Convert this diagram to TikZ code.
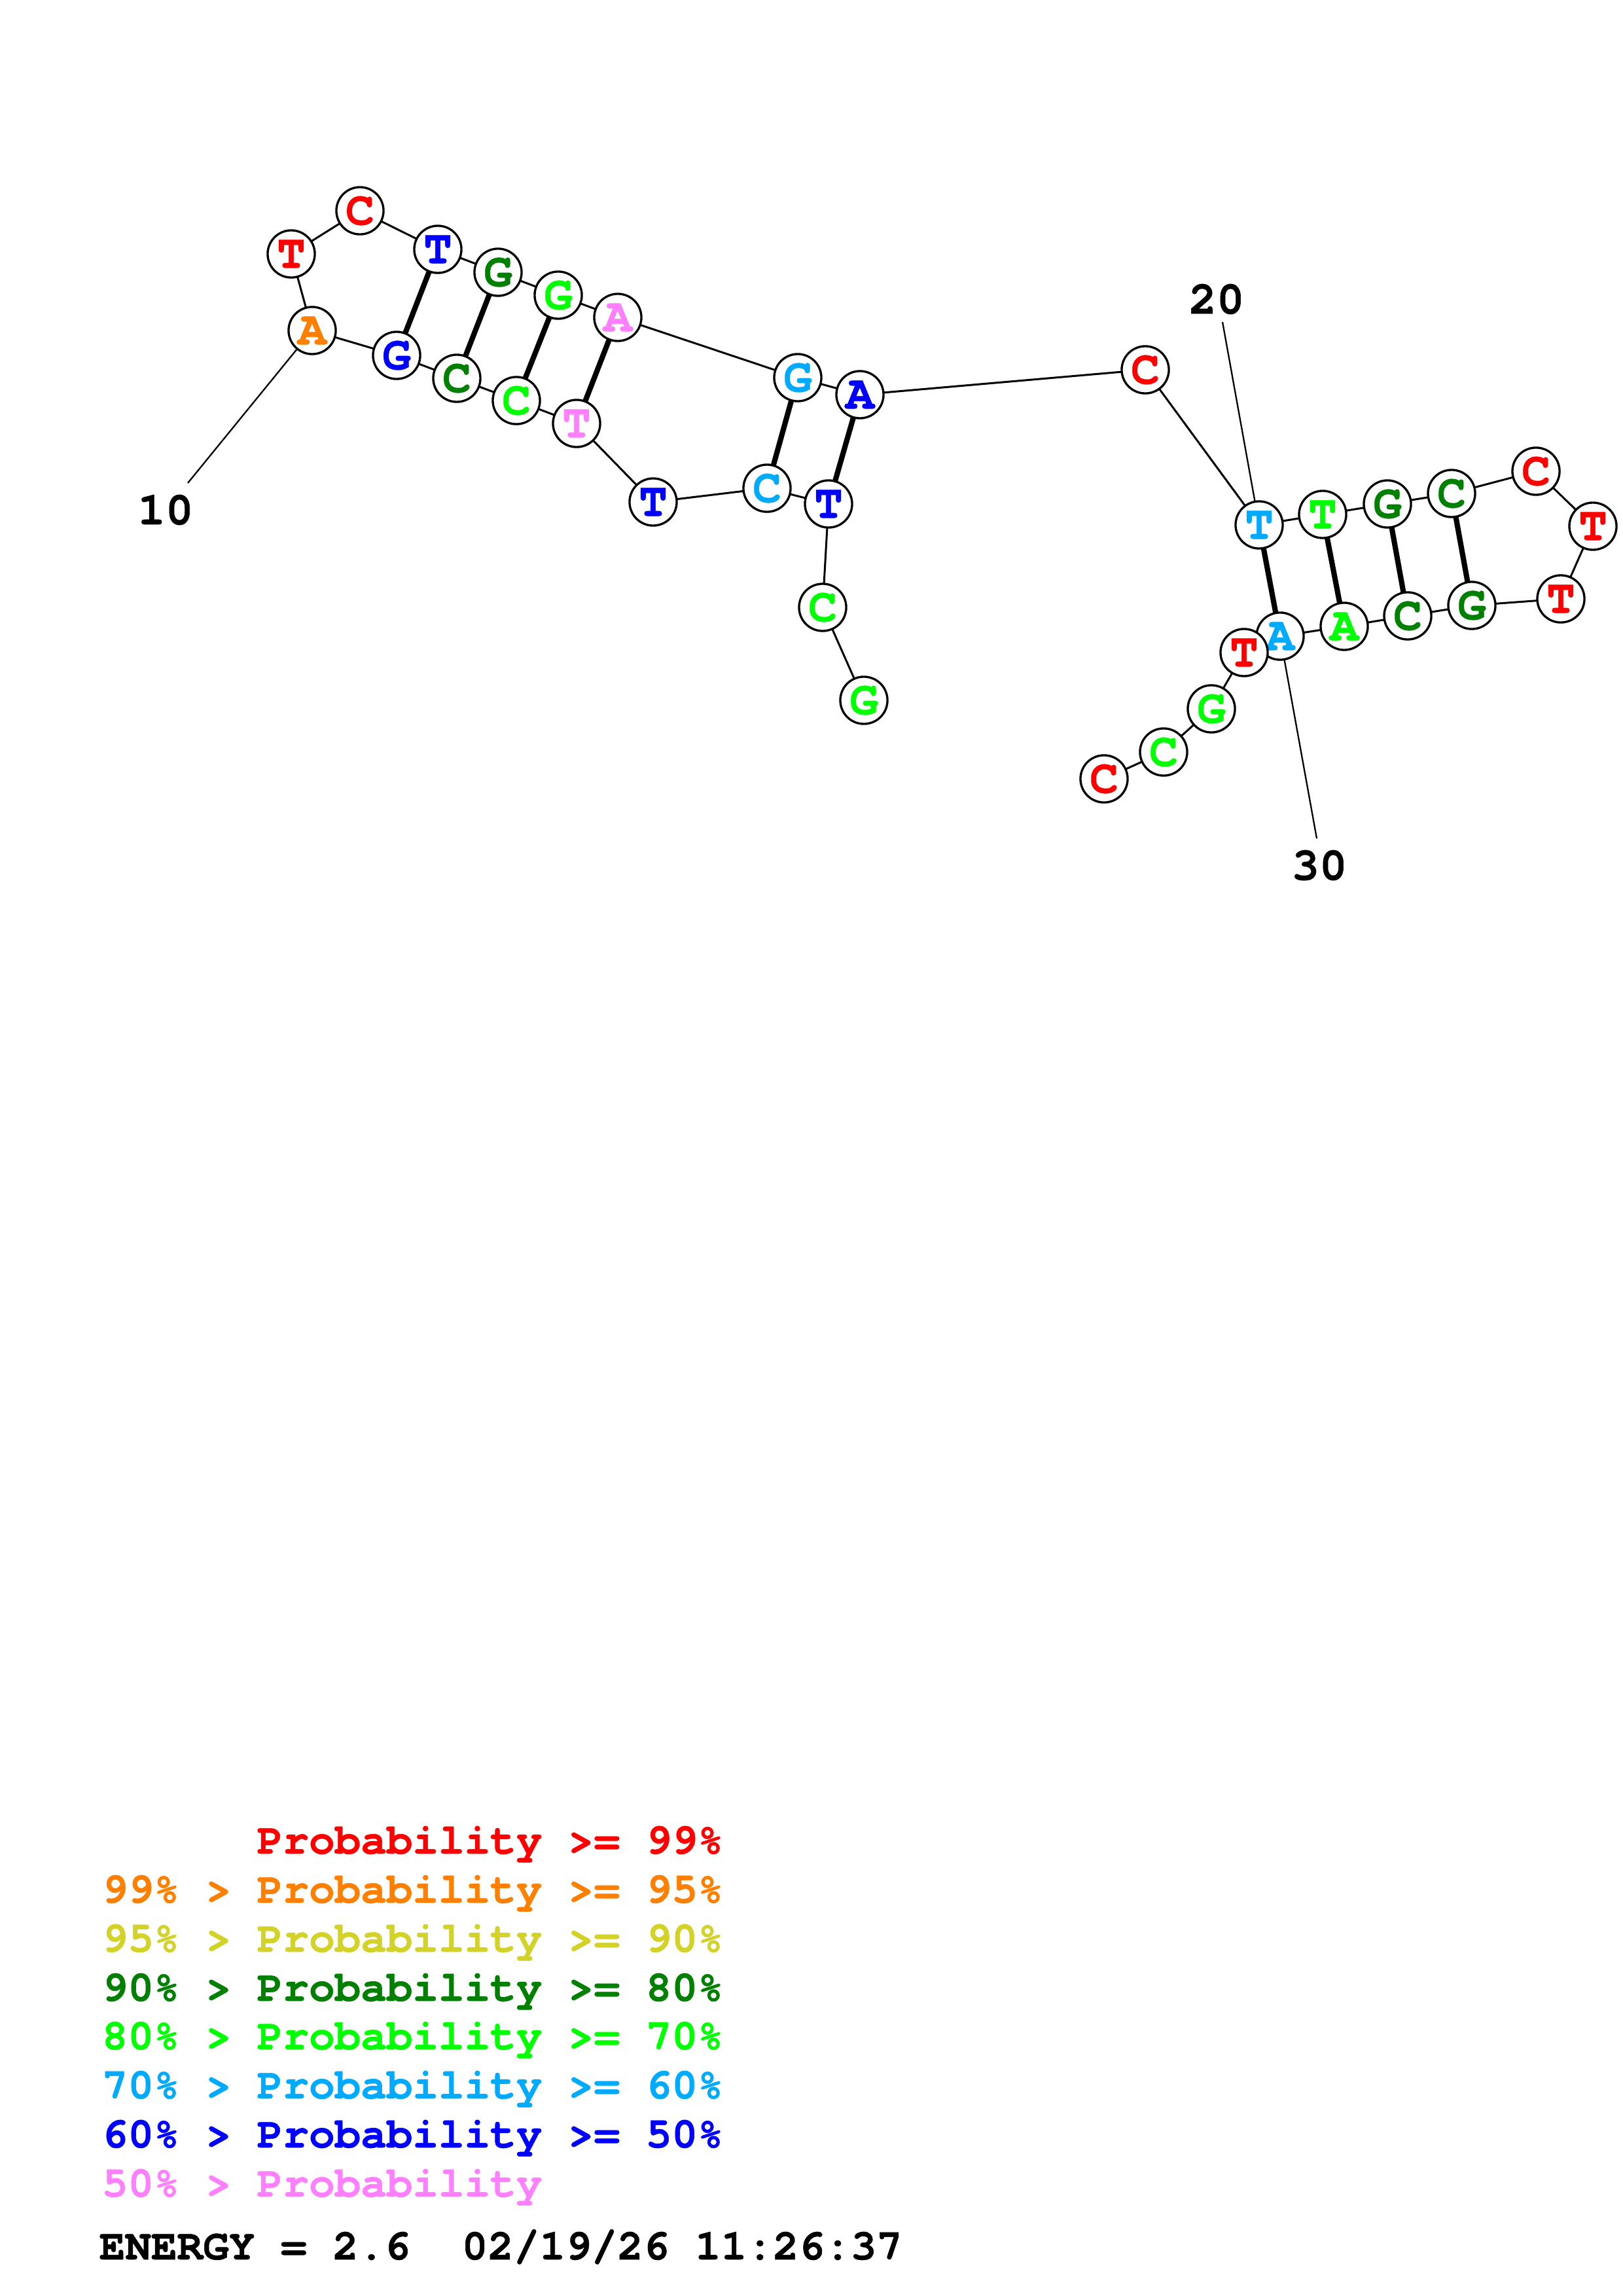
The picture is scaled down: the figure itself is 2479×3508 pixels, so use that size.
\documentclass[tikz,border=0pt]{standalone}
\usepackage{fontspec}
\setmonofont{texgyrecursor}[Extension=.otf,UprightFont=*-regular,BoldFont=*-bold,BoldFeatures={FakeBold=0.8}]
\usetikzlibrary{backgrounds}
\definecolor{cRed}{RGB}{255,0,0}
\definecolor{cOrange}{RGB}{255,128,0}
\definecolor{cYellow}{RGB}{210,210,40}
\definecolor{cDkGreen}{RGB}{0,128,0}
\definecolor{cGreen}{RGB}{0,255,0}
\definecolor{cCyan}{RGB}{0,170,255}
\definecolor{cBlue}{RGB}{0,0,255}
\definecolor{cPink}{RGB}{255,128,255}
\tikzset{
  nt/.style={circle,draw=black,line width=0.8pt,fill=white,minimum size=17.3pt,inner sep=0pt,
    text=#1,font=\ttfamily\bfseries\fontsize{17.5}{17.5}\selectfont},
  bb/.style={line width=0.72pt},
  pairbond/.style={line width=1.95pt},
  tick/.style={line width=0.55pt},
  lab/.style={inner sep=0pt,font=\ttfamily\bfseries\fontsize{17}{17}\selectfont},
  leg/.style={anchor=base west,inner sep=0pt,font=\ttfamily\bfseries\fontsize{15.84}{16}\selectfont}
}
\begin{document}
\begin{tikzpicture}[x=0.24pt,y=-0.24pt]
\useasboundingbox (0,0) rectangle (2479,3508);
\node[nt=cGreen]   (n1)  at (1320,1070) {G};
\node[nt=cGreen]   (n2)  at (1257,928)  {C};
\node[nt=cBlue]    (n3)  at (1266,770)  {T};
\node[nt=cCyan]    (n4)  at (1172,746)  {C};
\node[nt=cBlue]    (n5)  at (998,767)   {T};
\node[nt=cPink]    (n6)  at (881,647)   {T};
\node[nt=cGreen]   (n7)  at (789,612)   {C};
\node[nt=cDkGreen] (n8)  at (698,578)   {C};
\node[nt=cBlue]    (n9)  at (606,543)   {G};
\node[nt=cOrange]  (n10) at (477,505)   {A};
\node[nt=cRed]     (n11) at (445,388)   {T};
\node[nt=cRed]     (n12) at (550,322)   {C};
\node[nt=cBlue]    (n13) at (669,381)   {T};
\node[nt=cDkGreen] (n14) at (761,416)   {G};
\node[nt=cGreen]   (n15) at (853,451)   {G};
\node[nt=cPink]    (n16) at (944,485)   {A};
\node[nt=cCyan]    (n17) at (1219,577)  {G};
\node[nt=cBlue]    (n18) at (1314,603)  {A};
\node[nt=cRed]     (n19) at (1750,565)  {C};
\node[nt=cCyan]    (n20) at (1924,802)  {T};
\node[nt=cGreen]   (n21) at (2021,786)  {T};
\node[nt=cDkGreen] (n22) at (2120,770)  {G};
\node[nt=cDkGreen] (n23) at (2218,754)  {C};
\node[nt=cRed]     (n24) at (2347,720)  {C};
\node[nt=cRed]     (n25) at (2434,804)  {T};
\node[nt=cRed]     (n26) at (2385,915)  {T};
\node[nt=cDkGreen] (n27) at (2249,925)  {G};
\node[nt=cDkGreen] (n28) at (2151,941)  {C};
\node[nt=cGreen]   (n29) at (2054,957)  {A};
\node[nt=cCyan]    (n30) at (1956,972)  {A};
\node[nt=cRed]     (n31) at (1901,997)  {T};
\node[nt=cGreen]   (n32) at (1851,1083) {G};
\node[nt=cGreen]   (n33) at (1778,1149) {C};
\node[nt=cRed]     (n34) at (1687,1190) {C};
% position labels
\node[lab] (l10) at (253,779) {10};
\node[lab] (l20) at (1859,457) {20};
\node[lab] (l30) at (2016,1322) {30};
\coordinate (t10) at (287,738);
\coordinate (t20) at (1868,492);
\coordinate (t30) at (2012,1281);
\begin{scope}[on background layer]
\foreach \a/\b in {1/2,2/3,3/4,4/5,5/6,6/7,7/8,8/9,9/10,10/11,11/12,12/13,13/14,14/15,15/16,16/17,17/18,18/19,19/20,20/21,21/22,22/23,23/24,24/25,25/26,26/27,27/28,28/29,29/30,30/31,31/32,32/33,33/34}
  \draw[bb] (n\a.center) -- (n\b.center);
\foreach \a/\b in {3/18,4/17,6/16,7/15,8/14,9/13,20/30,21/29,22/28,23/27}
  \draw[pairbond] (n\a.center) -- (n\b.center);
\draw[tick] (t10) -- (n10.center);
\draw[tick] (t20) -- (n20.center);
\draw[tick] (n30.center) -- (t30);
\end{scope}
% legend
\node[leg,text=cRed] (g1) at (392,2832) {Probability >= 99\%};
\node[leg,text=cOrange] (h2) at (155,2907) {99\% >};
\node[leg,text=cOrange] (g2) at (392,2907) {Probability >= 95\%};
\node[leg,text=cYellow] (h3) at (155,2982) {95\% >};
\node[leg,text=cYellow] (g3) at (392,2982) {Probability >= 90\%};
\node[leg,text=cDkGreen] (h4) at (155,3057) {90\% >};
\node[leg,text=cDkGreen] (g4) at (392,3057) {Probability >= 80\%};
\node[leg,text=cGreen] (h5) at (155,3131) {80\% >};
\node[leg,text=cGreen] (g5) at (392,3131) {Probability >= 70\%};
\node[leg,text=cCyan] (h6) at (155,3206) {70\% >};
\node[leg,text=cCyan] (g6) at (392,3206) {Probability >= 60\%};
\node[leg,text=cBlue] (h7) at (155,3281) {60\% >};
\node[leg,text=cBlue] (g7) at (392,3281) {Probability >= 50\%};
\node[leg,text=cPink] (h8) at (155,3356) {50\% >};
\node[leg,text=cPink] (g8) at (392,3356) {Probability};
\node[leg,text=black] (e1) at (151,3452) {ENERGY = 2.6};
\node[leg,text=black] (e2) at (705,3452) {02/19/26 11:26:37};
\end{tikzpicture}
\end{document}
